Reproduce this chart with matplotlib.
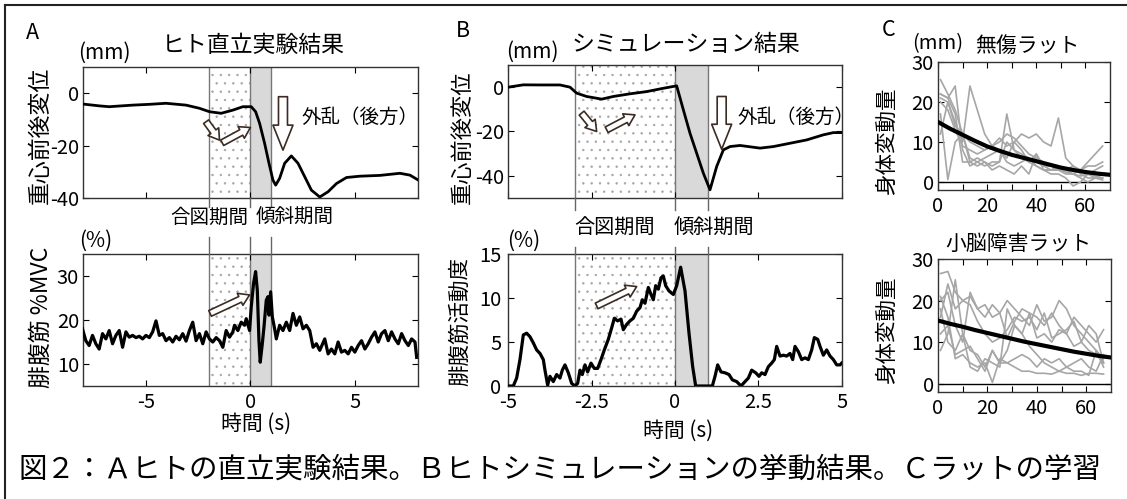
import matplotlib
matplotlib.use('Agg')
import matplotlib.pyplot as plt
from matplotlib.patches import FancyArrowPatch
from matplotlib.lines import Line2D
from matplotlib.transforms import blended_transform_factory

plt.rcParams['font.family'] = ['Noto Sans CJK JP', 'DejaVu Sans']
plt.rcParams['hatch.linewidth'] = 0.5
plt.rcParams['axes.unicode_minus'] = False

W, H = 1127, 499

# ── DATA ────────────────────────────────────────────────────
# A: human standing experiment, COM displacement (mm)
a_com_t = [-8.01, -7.21, -6.76, -5.64, -4.84, -4.04, -3.08, -2.44, -1.96, -1.40,
           -0.84, -0.36, 0.04, 0.25, 0.44, 0.68, 0.89, 1.08, 1.21, 1.40,
           1.64, 1.96, 2.28, 2.60, 2.92, 3.32, 3.72, 4.12, 4.60, 5.24,
           6.2, 7.16, 7.64, 8.04]
a_com_y = [-4.2, -4.9, -5.2, -4.6, -4.3, -3.9, -4.6, -5.8, -7.1, -7.7,
           -6.5, -5.2, -5.2, -7.1, -11.5, -19.1, -26.7, -33.1, -35.0, -32.4,
           -26.7, -23.9, -26.7, -31.8, -36.9, -39.5, -37.5, -34.4, -32.1, -31.6,
           -31.3, -30.5, -31.2, -33.1]

# A: gastrocnemius %MVC
a_emg_t = [-8.04, -7.88, -7.72, -7.56, -7.40, -7.24, -7.08, -6.92, -6.76, -6.60,
           -6.44, -6.28, -6.12, -5.96, -5.80, -5.64, -5.48, -5.32, -5.16, -5.00,
           -4.84, -4.68, -4.52, -4.36, -4.20, -4.04, -3.88, -3.72, -3.56, -3.40,
           -3.24, -3.08, -2.92, -2.76, -2.60, -2.44, -2.28, -2.12, -1.96, -1.80,
           -1.64, -1.48, -1.32, -1.16, -1.00, -0.84, -0.76, -0.60, -0.44, -0.28,
           -0.20, -0.04, 0.04, 0.15, 0.25, 0.33, 0.41, 0.47, 0.57, 0.65,
           0.76, 0.84, 0.89, 0.97, 1.05, 1.16, 1.24, 1.40, 1.56, 1.72,
           1.88, 2.04, 2.20, 2.36, 2.52, 2.68, 2.84, 3.00, 3.16, 3.32,
           3.56, 3.72, 3.88, 4.04, 4.20, 4.36, 4.52, 4.68, 4.84, 5.00,
           5.16, 5.32, 5.48, 5.64, 5.80, 5.96, 6.12, 6.28, 6.44, 6.60,
           6.76, 6.92, 7.08, 7.24, 7.40, 7.56, 7.72, 7.88, 7.96]
a_emg_y = [18.0, 15.3, 14.2, 16.5, 14.6, 13.4, 16.9, 15.7, 17.6, 14.6,
           16.5, 17.6, 13.8, 17.3, 16.1, 16.5, 16.0, 16.3, 15.7, 16.5,
           16.0, 17.3, 19.8, 16.5, 16.9, 15.3, 16.0, 15.0, 16.3, 15.5,
           16.9, 15.2, 17.6, 19.5, 15.3, 16.9, 14.6, 17.3, 15.7, 15.0,
           16.0, 15.3, 13.8, 17.6, 16.1, 17.3, 18.8, 17.6, 19.5, 18.8,
           20.3, 17.6, 23.0, 28.3, 31.0, 26.8, 15.3, 10.4, 14.6, 18.4,
           24.5, 25.3, 21.1, 26.4, 20.7, 18.0, 15.7, 18.8, 17.6, 19.5,
           17.6, 21.5, 18.8, 20.7, 18.0, 18.8, 17.6, 13.8, 14.6, 13.1,
           15.7, 12.3, 13.4, 12.3, 15.0, 12.7, 13.1, 12.3, 13.8, 12.7,
           14.2, 15.3, 13.4, 14.6, 16.1, 17.3, 15.0, 16.9, 17.6, 15.3,
           17.3, 15.7, 14.6, 16.9, 15.3, 14.2, 15.7, 15.0, 11.5]

# B: simulation, COM displacement (mm)
b_com_t = [-5.0, -4.55, -4.05, -3.45, -3.15, -2.95, -2.65, -2.2, -1.85, -1.35,
           -0.85, -0.35, 0.05, 0.25, 0.45, 0.65, 0.85, 1.05, 1.25, 1.45,
           1.65, 1.95, 2.55, 2.95, 3.45, 3.95, 4.45, 4.75, 5.05]
b_com_y = [0.0, 1.05, 1.0, 1.0, 0.0, -2.7, -4.2, -5.4, -4.2, -3.0,
           -2.0, -0.5, 0.6, -10.2, -20.8, -29.8, -38.8, -46.3, -35.8, -28.3,
           -26.8, -26.3, -27.5, -26.8, -25.3, -23.8, -21.5, -20.5, -20.5]

# B: gastrocnemius activation (%)
b_emg_t = [-5.0, -4.85, -4.75, -4.65, -4.55, -4.45, -4.35, -4.25, -4.15, -4.05,
           -3.95, -3.9, -3.82, -3.75, -3.65, -3.55, -3.45, -3.38, -3.3, -3.2,
           -3.1, -3.0, -2.92, -2.85, -2.78, -2.7, -2.62, -2.52, -2.42, -2.32,
           -2.22, -2.12, -2.0, -1.9, -1.82, -1.72, -1.62, -1.55, -1.45, -1.35,
           -1.25, -1.15, -1.05, -0.98, -0.9, -0.8, -0.72, -0.65, -0.58, -0.5,
           -0.42, -0.35, -0.28, -0.18, -0.05, 0.05, 0.17, 0.3, 0.42, 0.53,
           0.62, 1.0, 1.12, 1.2, 1.28, 1.38, 1.5, 1.62, 1.72, 1.85,
           1.98, 2.1, 2.2, 2.3, 2.42, 2.52, 2.6, 2.7, 2.8, 2.9,
           2.98, 3.05, 3.15, 3.25, 3.35, 3.45, 3.53, 3.6, 3.7, 3.8,
           3.9, 4.0, 4.1, 4.18, 4.28, 4.35, 4.45, 4.55, 4.65, 4.75,
           4.85, 4.95, 5.0]
b_emg_y = [0.0, 0.0, 0.9, 3.0, 5.8, 6.0, 5.6, 4.9, 4.1, 3.7,
           3.0, 1.8, 0.1, 1.1, 0.5, 1.3, 0.9, 1.8, 2.4, 1.5,
           0.3, 0.0, 0.3, 1.8, 1.3, 2.4, 1.6, 2.6, 2.0, 2.0,
           3.0, 4.1, 5.3, 6.6, 7.7, 7.4, 7.6, 6.4, 7.0, 7.4,
           7.7, 8.5, 8.9, 9.8, 9.4, 11.2, 10.4, 9.8, 11.4, 11.0,
           12.3, 12.5, 11.4, 10.8, 10.4, 11.4, 13.5, 10.8, 6.0, 2.2,
           0.0, 0.0, 0.0, 1.1, 2.4, 1.6, 1.5, 1.3, 0.7, 0.5,
           0.0, 0.5, 0.9, 1.8, 1.5, 1.1, 1.5, 1.3, 2.2, 2.6,
           3.0, 4.5, 3.4, 3.5, 3.4, 3.7, 3.0, 4.5, 3.9, 3.0,
           3.2, 3.0, 4.1, 5.5, 5.3, 4.5, 3.5, 4.1, 3.4, 3.0,
           2.4, 2.4, 2.6]

# C: rat learning (body sway, mm) vs trial
c_trial = [1, 4, 7, 10, 13, 16, 19, 22, 25, 28, 31, 34,
           37, 40, 43, 46, 49, 52, 55, 58, 61, 64, 67]
c_intact = [
    [25.6, 22, 18, 12, 10, 9, 8, 9, 10, 12, 11, 9, 7, 6, 5, 4, 3.5, 3, 3, 2.5, 2, 1.5, 1],
    [22, 21, 24, 8, 4, 5, 6, 7, 8, 5, 4, 5, 6, 4, 3, 3, 3, 2.5, 2, 1.5, 2, 3, 4],
    [21, 20, 15, 10, 24, 18, 12, 9, 8, 6, 10, 8, 5, 4, 3, 3, 4, 3, 2, 1, 0, 1, 2],
    [17, 0.6, 10, 12, 6, 5, 4, 5, 5, 17, 8, 6, 5, 7, 4, 3, 3, 3, 4, 2, 1, 1, 1],
    [20, 18, 13, 9, 8, 7, 8, 9, 11, 9, 10, 12, 11, 12, 10, 9, 16, 6, 4, 3, 5, 7, 9],
    [22, 21, 17, 5, 5, 6, 5, 4, 5, 10, 8, 7, 6, 5, 4, 4, 3, 2, 2, 3, 4, 4, 5],
    [12, 20, 14, 12, 5, 4, 5, 3, 4, 3, 2, 4, 2, 7, 3, 2, 2, 1, -1, 0, 2, 1, 0.5],
]
c_cereb = [
    [26.5, 27, 22, 20, 21, 18, 19, 16, 17, 20, 18, 16, 14, 19, 15, 16, 20, 18, 14, 12, 10, 8, 6],
    [20, 22, 14, 10, 22, 18, 16, 19, 17, 11, 15, 18, 17, 16, 14, 17, 14, 12, 16, 14, 12, 10, 13],
    [18, 10, 8, 12, 4, 3, 6, 5, 4, 18, 14, 12, 17, 11, 12, 10, 13, 12, 9, 10, 8, 7, 5],
    [8, 12, 25, 12, 8, 7, 4, 8, 5, 5, 6, 7, 6, 4, 6, 5, 6, 4, 5, 6, 4, 3, 7],
    [21, 16, 6, 7, 5, 4, 5, 0.3, 6, 5, 4, 3, 3, 2.5, 2.5, 2.3, 3, 2.5, 2.5, 2, 2.5, 2.5, 2.3],
    [12, 14, 7, 8, 9, 6, 3, 8, 5, 8, 14, 12, 9, 7, 5, 4, 3, 4, 3, 3, 2, 8, 4],
    [16, 24, 18, 20, 19, 15, 12, 10, 11, 13, 16, 15, 16, 13, 17, 11, 12, 13, 15, 10, 14, 12, 5],
]
fit_x = [0, 5, 10, 15, 20, 25, 30, 35, 40, 45, 50, 55, 60, 65, 70]
fit_intact = [15.0, 13.3, 11.8, 10.3, 8.9, 7.8, 6.8, 6.0, 5.2, 4.4, 3.6, 3.0, 2.5, 2.1, 1.8]
fit_cereb = [15.2, 14.4, 13.7, 12.9, 12.2, 11.5, 10.8, 10.1, 9.5, 8.9, 8.3, 7.7, 7.2, 6.7, 6.3]

# ── FIGURE ──────────────────────────────────────────────────
fig = plt.figure(figsize=(W / 100, H / 100), dpi=100)
fig.patch.set_facecolor('white')

TICK_FS = 14.5


def add_ax(l, t, r, b):
    return fig.add_axes([l / W, 1 - b / H, (r - l) / W, (b - t) / H])


def ftext(px, py, s, size=15, **kw):
    kw.setdefault('ha', 'center')
    kw.setdefault('va', 'center')
    fig.text(px / W, 1 - py / H, s, fontsize=size, **kw)


def style(ax):
    ax.tick_params(direction='in', top=True, right=True, length=4, width=0.8,
                   labelsize=TICK_FS, pad=3)
    ax.tick_params(axis='x', pad=4)
    for s in ax.spines.values():
        s.set_linewidth(1.0)
        s.set_color('#333333')


def periods(ax, t0, t1, t2):
    ax.axvspan(t0, t1, facecolor='white', edgecolor='#a5a5a5', hatch='..', lw=0, zorder=0)
    ax.axvspan(t1, t2, facecolor='#d9d9d9', lw=0, zorder=0)
    for t in (t0, t1, t2):
        ax.axvline(t, color='#777777', lw=1.0, zorder=1)


def connectors(ax, ts, segs):
    tr = blended_transform_factory(ax.transData, fig.transFigure)
    for t in ts:
        for y0, y1 in segs:
            fig.add_artist(Line2D([t, t], [1 - y0 / H, 1 - y1 / H], transform=tr,
                                  color='#666666', lw=1.0))


def hollow_arrow(ax, p0, p1, scale, tail, head, hl):
    ax.add_patch(FancyArrowPatch(p0, p1, mutation_scale=scale,
                 arrowstyle=f'simple,tail_width={tail},head_width={head},head_length={hl}',
                 fc='white', ec='#3b2b22', lw=1.2, shrinkA=0, shrinkB=0, zorder=5))


# ── A ──
axA1 = add_ax(83.3, 66.7, 417.5, 198.3)
periods(axA1, -2, 0, 1)
axA1.plot(a_com_t, a_com_y, color='black', lw=2.0, zorder=3)
axA1.set_xlim(-8, 8); axA1.set_ylim(-40, 10)
axA1.set_xticks([-5, 0, 5]); axA1.set_xticklabels([])
axA1.set_yticks([-40, -20, 0])
style(axA1)
hollow_arrow(axA1, (-2.12, -10.9), (-1.48, -17.9), 10, 0.45, 0.95, 0.75)
hollow_arrow(axA1, (-1.35, -18.9), (0.0, -13.1), 10, 0.45, 0.95, 0.75)
hollow_arrow(axA1, (1.56, -1.4), (1.56, -21.7), 18, 0.36, 0.8, 1.0)
axA1.text(2.46, -9.1, '外乱（後方）', fontsize=14, va='center', ha='left')

axA2 = add_ax(83.3, 254, 417.5, 386)
periods(axA2, -2, 0, 1)
axA2.plot(a_emg_t, a_emg_y, color='black', lw=2.3, zorder=3)
axA2.set_xlim(-8, 8); axA2.set_ylim(5, 35)
axA2.set_xticks([-5, 0, 5]); axA2.set_yticks([10, 20, 30])
style(axA2)
hollow_arrow(axA2, (-1.93, 21.5), (-0.04, 25.7), 10, 0.45, 0.95, 0.75)
connectors(axA1, [-2, 0, 1], [(198, 207), (237, 254)])

ftext(32, 33, 'A', 15.5)
ftext(104, 53, '(mm)', 15)
ftext(253, 45, 'ヒト直立実験結果', 16.5)
ftext(40, 135, '重心前後変位', 16.5, rotation=90)
ftext(209, 217, '合図期間', 14)
ftext(295, 217, '傾斜期間', 14)
ftext(96, 241, '(%)', 15)
ftext(41, 317, '腓腹筋 %MVC', 16.5, rotation=90)
ftext(256, 424, '時間 (s)', 15)

# ── B ──
axB1 = add_ax(508.3, 65, 841.7, 198)
periods(axB1, -3, 0, 1)
axB1.plot(b_com_t, b_com_y, color='black', lw=2.0, zorder=3)
axB1.set_xlim(-5, 5); axB1.set_ylim(-50, 10)
axB1.set_xticks([-5, -2.5, 0, 2.5, 5]); axB1.set_xticklabels([])
axB1.set_yticks([-40, -20, 0])
style(axB1)
hollow_arrow(axB1, (-2.80, -11.7), (-2.35, -20.0), 10, 0.45, 0.95, 0.75)
hollow_arrow(axB1, (-2.05, -19.2), (-1.2, -12.5), 10, 0.45, 0.95, 0.75)
hollow_arrow(axB1, (1.40, -4.2), (1.40, -28.0), 18, 0.36, 0.8, 1.0)
axB1.text(1.86, -13.5, '外乱（後方）', fontsize=14, va='center', ha='left')

axB2 = add_ax(508.3, 254, 841.7, 386)
periods(axB2, -3, 0, 1)
axB2.plot(b_emg_t, b_emg_y, color='black', lw=2.3, zorder=3)
axB2.set_xlim(-5, 5); axB2.set_ylim(0, 15)
axB2.set_xticks([-5, -2.5, 0, 2.5, 5])
axB2.set_xticklabels(['-5', '-2.5', '0', '2.5', '5'])
axB2.set_yticks([0, 5, 10, 15])
style(axB2)
axB2.tick_params(axis='y', pad=5)
hollow_arrow(axB2, (-2.35, 9.1), (-1.15, 11.3), 10, 0.45, 0.95, 0.75)
connectors(axB1, [-3, 0, 1], [(198, 210), (247, 254)])

ftext(463, 31, 'B', 15.5)
ftext(532, 52, '(mm)', 15)
ftext(686, 44, 'シミュレーション結果', 16.5)
ftext(462, 137, '重心前後変位', 16, rotation=90)
ftext(615, 228, '合図期間', 14.5)
ftext(714, 228, '傾斜期間', 14.5)
ftext(524, 241, '(%)', 15)
ftext(460, 322, '腓腹筋活動度', 15.5, rotation=90)
ftext(678, 431, '時間 (s)', 15)

# ── C ──
for box, lines, fit in [((938, 62, 1110, 190), c_intact, fit_intact),
                        ((938, 259, 1111, 392), c_cereb, fit_cereb)]:
    ax = add_ax(*box)
    for ln in lines:
        ax.plot(c_trial, ln, color='#a6a6a6', lw=1.2, zorder=2)
    ax.plot(fit_x, fit, color='black', lw=3.0, zorder=3)
    ax.axhline(0, color='black', lw=1.0, zorder=1)
    ax.set_xlim(0, 70); ax.set_ylim(-2, 30)
    ax.set_xticks([0, 10, 20, 30, 40, 50, 60])
    ax.set_xticklabels(['0', '', '20', '', '40', '', '60'])
    ax.set_yticks([0, 10, 20, 30])
    style(ax)

ftext(889, 30, 'C', 15.5)
ftext(938, 44, '(mm)', 14.5)
ftext(1027, 46, '無傷ラット', 15)
ftext(887, 141, '身体変動量', 15.5, rotation=90)
ftext(1018, 244, '小脳障害ラット', 15)
ftext(887, 330, '身体変動量', 15.5, rotation=90)

# caption and frame
ftext(560, 470, '図２：Ａヒトの直立実験結果。Ｂヒトシミュレーションの挙動結果。Ｃラットの学習', 20.5)
fig.add_artist(Line2D([5 / W, 1], [1 - 5 / H, 1 - 5 / H], transform=fig.transFigure,
                      color='#222222', lw=1.5))
fig.add_artist(Line2D([5 / W, 5 / W], [1 - 5 / H, 0], transform=fig.transFigure,
                      color='#222222', lw=1.5))

fig.savefig('out.png', dpi=100)
